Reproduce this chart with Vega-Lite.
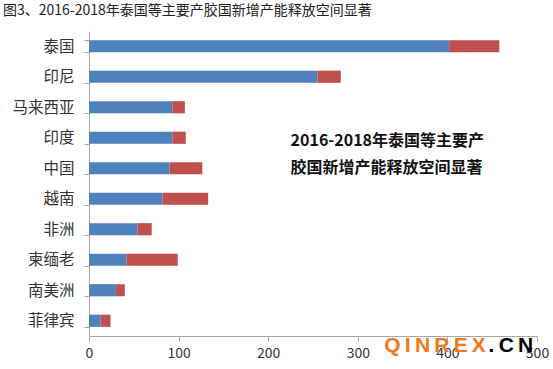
{
  "$schema": "https://vega.github.io/schema/vega-lite/v6.json",
  "width": 448,
  "height": 305,
  "autosize": {"type": "none"},
  "padding": {"left": 89, "top": 31, "right": 16, "bottom": 33},
  "background": "white",
  "title": {
    "text": "图3、2016-2018年泰国等主要产胶国新增产能释放空间显著",
    "anchor": "start",
    "frame": "group",
    "dx": -86,
    "offset": 6,
    "fontSize": 14,
    "font": "Noto Sans CJK SC",
    "fontWeight": "normal",
    "color": "#222222"
  },
  "config": {"view": {"stroke": null}, "font": "Noto Sans CJK SC"},
  "datasets": {
    "bars": [
      {"cat": "泰国", "series": "2016", "o": 1, "value": 402},
      {"cat": "泰国", "series": "2018", "o": 2, "value": 56},
      {"cat": "印尼", "series": "2016", "o": 1, "value": 255},
      {"cat": "印尼", "series": "2018", "o": 2, "value": 26},
      {"cat": "马来西亚", "series": "2016", "o": 1, "value": 93},
      {"cat": "马来西亚", "series": "2018", "o": 2, "value": 14},
      {"cat": "印度", "series": "2016", "o": 1, "value": 93},
      {"cat": "印度", "series": "2018", "o": 2, "value": 15},
      {"cat": "中国", "series": "2016", "o": 1, "value": 90},
      {"cat": "中国", "series": "2018", "o": 2, "value": 36.5},
      {"cat": "越南", "series": "2016", "o": 1, "value": 82},
      {"cat": "越南", "series": "2018", "o": 2, "value": 51},
      {"cat": "非洲", "series": "2016", "o": 1, "value": 54},
      {"cat": "非洲", "series": "2018", "o": 2, "value": 16},
      {"cat": "柬缅老", "series": "2016", "o": 1, "value": 42},
      {"cat": "柬缅老", "series": "2018", "o": 2, "value": 57},
      {"cat": "南美洲", "series": "2016", "o": 1, "value": 30},
      {"cat": "南美洲", "series": "2018", "o": 2, "value": 10},
      {"cat": "菲律宾", "series": "2016", "o": 1, "value": 13},
      {"cat": "菲律宾", "series": "2018", "o": 2, "value": 11}
    ],
    "notes": [
      {"text": "2016-2018年泰国等主要产\n胶国新增产能释放空间显著", "x": 225, "cat": "印度"}
    ],
    "mark1": [{"text": "Q\u2009I\u2009N\u2009R\u2009E\u2009X", "x": 329.6, "cat": "菲律宾"}],
    "mark2": [{"text": ".\u2009C\u2009N", "x": 446, "cat": "菲律宾"}]
  },
  "layer": [
    {
      "data": {"name": "bars"},
      "mark": {"type": "bar"},
      "encoding": {
        "y": {
          "field": "cat",
          "type": "nominal",
          "sort": null,
          "scale": {
            "domain": ["泰国", "印尼", "马来西亚", "印度", "中国", "越南", "非洲", "柬缅老", "南美洲", "菲律宾"],
            "paddingInner": 0.6,
            "paddingOuter": 0.3
          },
          "axis": {
            "title": null,
            "labelFontSize": 15.5,
            "labelColor": "#333333",
            "labelPadding": 10,
            "tickBand": "extent",
            "tickSize": 5,
            "tickColor": "#A6A6A6",
            "domainColor": "#A6A6A6"
          }
        },
        "x": {
          "field": "value",
          "type": "quantitative",
          "stack": "zero",
          "scale": {"domain": [0, 500], "nice": false},
          "axis": {
            "title": null,
            "values": [0, 100, 200, 300, 400, 500],
            "grid": false,
            "labelFontSize": 14,
            "labelColor": "#333333",
            "labelPadding": 5,
            "tickSize": 5,
            "tickColor": "#A6A6A6",
            "domainColor": "#A6A6A6",
            "labelFlush": false
          }
        },
        "color": {
          "field": "series",
          "type": "nominal",
          "scale": {"domain": ["2016", "2018"], "range": ["#4F81BD", "#C0504D"]},
          "legend": null
        },
        "order": {"field": "o", "type": "quantitative"}
      }
    },
    {
      "data": {"name": "notes"},
      "mark": {
        "type": "text",
        "align": "left",
        "baseline": "middle",
        "lineBreak": "\n",
        "lineHeight": 27,
        "fontSize": 16,
        "fontWeight": "bold",
        "color": "#111111",
        "dy": 3
      },
      "encoding": {
        "x": {"field": "x", "type": "quantitative"},
        "y": {"field": "cat", "type": "nominal"},
        "text": {"field": "text"}
      }
    },
    {
      "data": {"name": "mark1"},
      "mark": {
        "type": "text",
        "align": "left",
        "baseline": "middle",
        "fontSize": 21,
        "fontWeight": "bold",
        "font": "Liberation Sans",
        "color": "#F07820",
        "dy": 25
      },
      "encoding": {
        "x": {"field": "x", "type": "quantitative"},
        "y": {"field": "cat", "type": "nominal"},
        "text": {"field": "text"}
      }
    },
    {
      "data": {"name": "mark2"},
      "mark": {
        "type": "text",
        "align": "left",
        "baseline": "middle",
        "fontSize": 21,
        "fontWeight": "bold",
        "font": "Liberation Sans",
        "color": "#000000",
        "dy": 25
      },
      "encoding": {
        "x": {"field": "x", "type": "quantitative"},
        "y": {"field": "cat", "type": "nominal"},
        "text": {"field": "text"}
      }
    }
  ]
}
